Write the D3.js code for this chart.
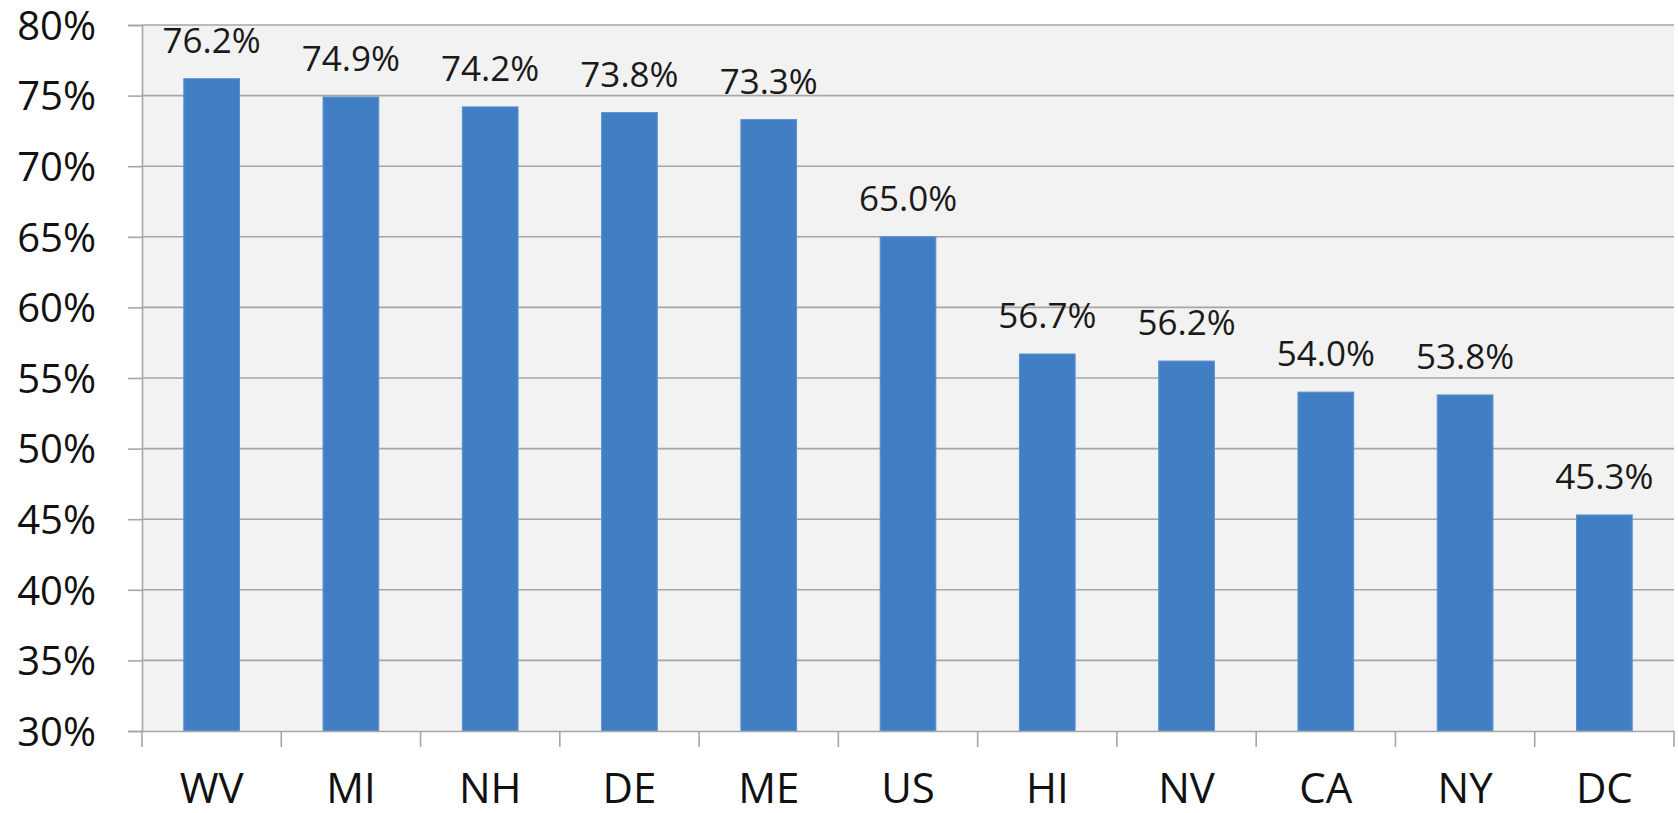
<!DOCTYPE html>
<html>
<head>
<meta charset="utf-8">
<script src="https://cdn.jsdelivr.net/npm/d3@7"></script>
<style>
  html, body { margin: 0; padding: 0; background: #ffffff; }
  svg { display: block; }
</style>
</head>
<body>
<svg id="chart" width="1678" height="813"></svg>
<script>
const categories = ["WV", "MI", "NH", "DE", "ME", "US", "HI", "NV", "CA", "NY", "DC"];
const values = [76.2, 74.9, 74.2, 73.8, 73.3, 65.0, 56.7, 56.2, 54.0, 53.8, 45.3];
const yTicks = [30, 35, 40, 45, 50, 55, 60, 65, 70, 75, 80];

(function () {
const svg = d3.select("#chart");
const pL = 142, pR = 1674, pT = 25, pB = 731;

const x = d3.scaleBand().domain(categories).range([pL, pR]).paddingInner(0).paddingOuter(0);
const y = d3.scaleLinear().domain([30, 80]).range([pB, pT]);

const gridColor = "#a6a6a6";
const font = "'Open Sans', 'Noto Sans', sans-serif";

svg.append("rect").attr("x", pL).attr("y", pT)
  .attr("width", pR - pL).attr("height", pB - pT).attr("fill", "#f2f2f2");

svg.append("g").selectAll("line").data(yTicks.filter(d => d !== 30)).join("line")
  .attr("x1", pL).attr("x2", pR)
  .attr("y1", d => y(d)).attr("y2", d => y(d))
  .attr("stroke", gridColor).attr("stroke-width", 1.6);

const barW = x.bandwidth() * 0.4;
svg.append("g").selectAll("rect").data(values).join("rect")
  .attr("x", (d, i) => x(categories[i]) + (x.bandwidth() - barW) / 2)
  .attr("y", d => y(d))
  .attr("width", barW)
  .attr("height", d => y(30) - y(d))
  .attr("fill", "#417ec3")
  .attr("stroke", "#5b93cf").attr("stroke-width", 1);

const yAxis = d3.axisLeft(y).tickValues(yTicks).tickSize(14).tickPadding(34)
  .tickFormat(d => d + "%");
const gy = svg.append("g").attr("transform", `translate(${pL},0)`).call(yAxis);
gy.select(".domain").attr("stroke", gridColor).attr("stroke-width", 1.6);
gy.selectAll(".tick line").attr("stroke", gridColor).attr("stroke-width", 1.6);
gy.selectAll(".tick text").attr("font-family", font).attr("font-size", 40)
  .attr("fill", "#111").attr("dy", "0.357em").attr("x", -46);

const xAxis = d3.axisBottom(x).tickSize(0).tickPadding(0);
const gx = svg.append("g").attr("transform", `translate(0,${pB})`).call(xAxis);
gx.select(".domain").attr("stroke", gridColor).attr("stroke-width", 1.6);
gx.selectAll(".tick text").attr("font-family", font).attr("font-size", 42)
  .attr("fill", "#111").attr("dy", null).attr("y", 72);

const bounds = categories.map(c => x(c)).concat([pR]);
svg.append("g").selectAll("line").data(bounds).join("line")
  .attr("x1", d => d).attr("x2", d => d)
  .attr("y1", pB).attr("y2", pB + 16)
  .attr("stroke", gridColor).attr("stroke-width", 1.6);

svg.append("g").selectAll("text").data(values).join("text")
  .attr("x", (d, i) => x(categories[i]) + x.bandwidth() / 2)
  .attr("y", d => y(d) - 26)
  .attr("text-anchor", "middle")
  .attr("font-family", font).attr("font-size", 35)
  .attr("fill", "#1a1a1a")
  .text(d => d.toFixed(1) + "%");
})();
</script>
</body>
</html>
